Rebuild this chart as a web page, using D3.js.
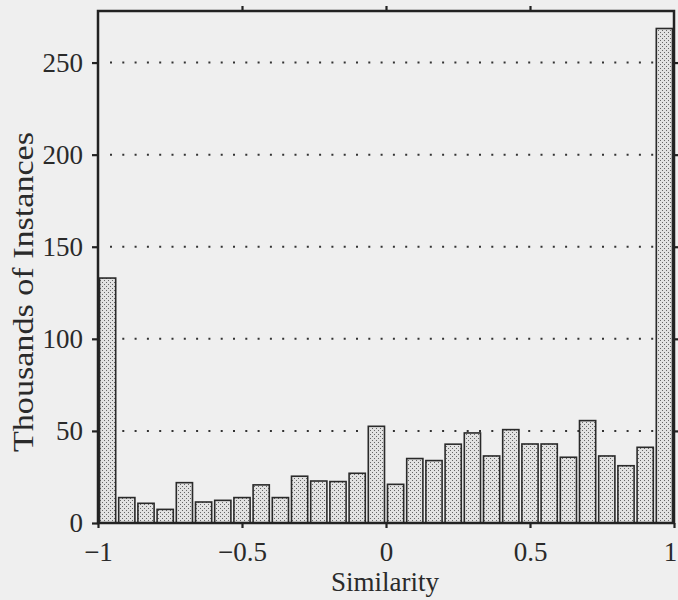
<!DOCTYPE html>
<html>
<head>
<meta charset="utf-8">
<script src="https://cdn.jsdelivr.net/npm/d3@7"></script>
<style>
  html, body { margin: 0; padding: 0; background: #efefef; }
  svg { display: block; }
  text { font-family: "Liberation Serif", "Times New Roman", serif; fill: #2a2a2a; }
</style>
</head>
<body>
<svg id="chart" width="678" height="600"></svg>
<script>
// Histogram of similarity scores: 30 equal bins over [-1, 1], counts in thousands
const binStarts = d3.range(30).map(i => -1 + i * (2 / 30));
const counts = [133, 13.8, 10.7, 7.4, 21.9, 11.4, 12.3, 13.8, 20.7, 13.8,
                25.4, 22.8, 22.5, 27.0, 52.5, 21.0, 35.0, 33.9, 42.8, 48.9,
                36.4, 50.7, 42.9, 42.9, 35.7, 55.6, 36.4, 31.1, 41.1, 268.5];
const xTicks = [-1, -0.5, 0, 0.5, 1];
const xTickLabels = ["\u22121", "\u22120.5", "0", "0.5", "1"];
const yTicks = [0, 50, 100, 150, 200, 250];
const gridValues = [50, 100, 150, 200, 250];

const svg = d3.select("#chart");
const plotL = 98, plotR = 674, plotT = 11, plotB = 523;

const x = d3.scaleLinear().domain([-1, 1]).range([plotL, plotR]);
const y = d3.scaleLinear().domain([0, 278]).range([plotB, plotT]);
const binW = 2 / 30;

// stipple fill for bars
const defs = svg.append("defs");
const pat = defs.append("pattern")
  .attr("id", "stipple").attr("patternUnits", "userSpaceOnUse")
  .attr("width", 4).attr("height", 4);
pat.append("rect").attr("width", 4).attr("height", 4).attr("fill", "#e2e2e2");
pat.append("rect").attr("x", 0).attr("y", 0).attr("width", 1).attr("height", 1).attr("fill", "#666");
pat.append("rect").attr("x", 2).attr("y", 2).attr("width", 1).attr("height", 1).attr("fill", "#666");

// dotted horizontal grid
svg.append("g").selectAll("line").data(gridValues).join("line")
  .attr("x1", plotL + 12).attr("x2", plotR - 4)
  .attr("y1", d => y(d)).attr("y2", d => y(d))
  .attr("stroke", "#333").attr("stroke-width", 2)
  .attr("stroke-dasharray", "2,10.3");

// bars
svg.append("g").selectAll("rect").data(counts).join("rect")
  .attr("x", (d, i) => x(binStarts[i]) + 1.5)
  .attr("width", (d, i) => x(binStarts[i] + binW) - x(binStarts[i]) - 3)
  .attr("y", d => y(d))
  .attr("height", d => y(0) - y(d))
  .attr("fill", "url(#stipple)")
  .attr("stroke", "#2a2a2a").attr("stroke-width", 1.6);

// frame and axes
const axisStyle = g => {
  g.select(".domain").remove();
  g.selectAll(".tick line").attr("stroke", "#222").attr("stroke-width", 2.2);
  g.selectAll("text").attr("font-size", 27).attr("fill", "#2a2a2a")
    .style("font-family", "'Liberation Serif', serif");
};

const xAxisG = svg.append("g").attr("transform", `translate(0,${plotB})`)
  .call(d3.axisBottom(x).tickValues(xTicks).tickSize(5).tickPadding(14)
    .tickFormat((d, i) => xTickLabels[i]))
  .call(axisStyle);
// keep the last label inside the page edge
xAxisG.selectAll(".tick text").filter(d => d === 1).attr("dx", -4);

svg.append("g").attr("transform", `translate(${plotL},0)`)
  .call(d3.axisLeft(y).tickValues(yTicks).tickSize(6).tickPadding(9))
  .call(axisStyle);

svg.append("g").attr("transform", `translate(0,${plotT})`)
  .call(d3.axisTop(x).tickValues([-0.5, 0, 0.5]).tickSize(5).tickFormat(""))
  .call(axisStyle);

svg.append("g").attr("transform", `translate(${plotR},0)`)
  .call(d3.axisRight(y).tickValues(gridValues).tickSize(5).tickFormat(""))
  .call(axisStyle);

svg.append("rect")
  .attr("x", plotL).attr("y", plotT)
  .attr("width", plotR - plotL).attr("height", plotB - plotT)
  .attr("fill", "none").attr("stroke", "#222").attr("stroke-width", 2.5);

// axis titles
svg.append("text")
  .attr("x", (plotL + plotR) / 2 - 1).attr("y", 591)
  .attr("text-anchor", "middle").attr("font-size", 27)
  .text("Similarity");

svg.append("text")
  .attr("transform", `translate(33,292) rotate(-90)`)
  .attr("text-anchor", "middle").attr("font-size", 29)
  .attr("textLength", 320).attr("lengthAdjust", "spacingAndGlyphs")
  .text("Thousands of Instances");
</script>
</body>
</html>
